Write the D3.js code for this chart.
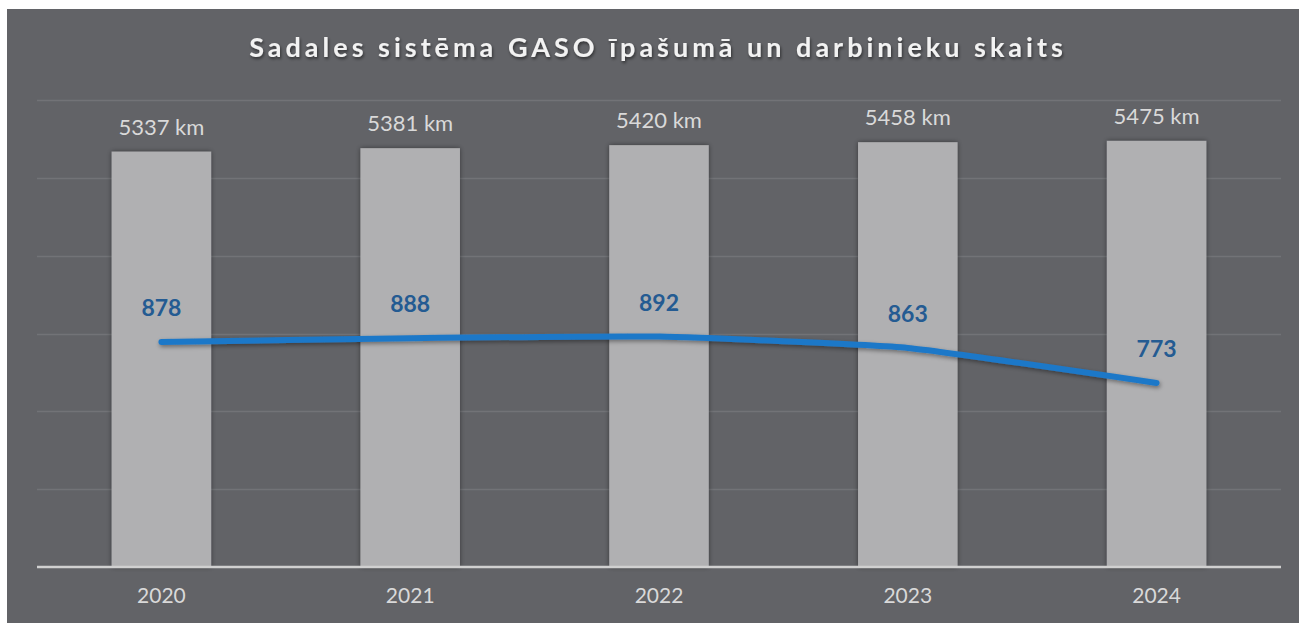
<!DOCTYPE html>
<html>
<head>
<meta charset="utf-8">
<script src="https://cdn.jsdelivr.net/npm/d3@7"></script>
<style>
  body { margin: 0; background: #ffffff; }
  svg { display: block; }
</style>
</head>
<body>
<div id="container"></div>
<script>
// Data
var years = ["2020", "2021", "2022", "2023", "2024"];
var networkKm = [5337, 5381, 5420, 5458, 5475];
var employees = [878, 888, 892, 863, 773];
var title = "Sadales sistēma GASO īpašumā un darbinieku skaits";

// Dimensions
var width = 1299;
var height = 623;
var margin = {left: 37, top: 100, bottom: 56, right: 18};
var plotBottom = height - margin.bottom;

var svg = d3.select("#container")
            .append("svg")
            .attr("width", width)
            .attr("height", height);

// Shadows for bars, line and title
var defs = svg.append("defs");
var barShadow = defs.append("filter").attr("id", "barShadow")
                    .attr("x", "-20%").attr("y", "-5%").attr("width", "140%").attr("height", "110%");
barShadow.append("feDropShadow").attr("dx", 0).attr("dy", 0).attr("stdDeviation", 2.5)
         .attr("flood-color", "#000").attr("flood-opacity", 0.45);
var lineShadow = defs.append("filter").attr("id", "lineShadow")
                     .attr("x", "-5%").attr("y", "-50%").attr("width", "110%").attr("height", "200%");
lineShadow.append("feDropShadow").attr("dx", 1).attr("dy", 2).attr("stdDeviation", 2)
          .attr("flood-color", "#000").attr("flood-opacity", 0.4);
var titleShadow = defs.append("filter").attr("id", "titleShadow");
titleShadow.append("feDropShadow").attr("dx", 1).attr("dy", 2).attr("stdDeviation", 1.5)
           .attr("flood-color", "#000").attr("flood-opacity", 0.5);

// Background panel
svg.append("rect")
   .attr("x", 7).attr("y", 9)
   .attr("width", width - 7).attr("height", height - 9)
   .attr("fill", "#626367");

// Scales
var xScale = d3.scaleBand()
               .domain(years)
               .range([margin.left, width - margin.right])
               .paddingInner(0.6)
               .paddingOuter(0.3);

var yBar = d3.scaleLinear()
             .domain([0, 6000])
             .range([plotBottom, margin.top]);

var yLine = d3.scaleLinear()
              .domain([300, 1500])
              .range([plotBottom, margin.top]);

// Gridlines
svg.append("g")
   .selectAll("line")
   .data(yBar.ticks(6).filter((d) => d > 0))
   .enter()
   .append("line")
   .attr("x1", margin.left)
   .attr("x2", width - margin.right)
   .attr("y1", (d) => Math.round(yBar(d)) + 0.5)
   .attr("y2", (d) => Math.round(yBar(d)) + 0.5)
   .attr("stroke", "#727377")
   .attr("stroke-width", 1.5);

// Bars
svg.append("g")
   .selectAll("rect")
   .data(networkKm)
   .enter()
   .append("rect")
   .attr("x", (d, i) => xScale(years[i]))
   .attr("y", (d) => yBar(d))
   .attr("width", xScale.bandwidth())
   .attr("height", (d) => yBar(0) - yBar(d))
   .attr("fill", "#b0b0b2")
   .attr("filter", "url(#barShadow)");

// Bar labels
svg.append("g")
   .selectAll("text")
   .data(networkKm)
   .enter()
   .append("text")
   .attr("x", (d, i) => xScale(years[i]) + xScale.bandwidth() / 2)
   .attr("y", (d) => yBar(d) - 17)
   .attr("text-anchor", "middle")
   .attr("font-family", "Lato, 'Open Sans', sans-serif")
   .attr("font-size", 22)
   .attr("fill", "#d9d9d9")
   .text((d) => d + " km");

// Baseline / x axis
var xAxis = d3.axisBottom(xScale).tickSize(0).tickPadding(21);
var axisG = svg.append("g")
   .attr("transform", "translate(0," + plotBottom + ")")
   .call(xAxis);
axisG.select(".domain")
     .attr("d", "M" + margin.left + ",0H" + (width - margin.right))
     .attr("stroke", "#d0d0d0")
     .attr("stroke-width", 2.5);
axisG.selectAll("text")
     .attr("font-family", "Lato, 'Open Sans', sans-serif")
     .attr("font-size", 21)
     .attr("fill", "#d9d9d9");

// Employee line (Excel-like smoothing)
var line = d3.line()
             .x((d, i) => xScale(years[i]) + xScale.bandwidth() / 2)
             .y((d) => yLine(d))
             .curve(d3.curveCardinal.tension(0.6));

svg.append("path")
   .datum(employees)
   .attr("d", line)
   .attr("fill", "none")
   .attr("stroke", "#1e78c8")
   .attr("stroke-width", 6)
   .attr("stroke-linecap", "round")
   .attr("stroke-linejoin", "round")
   .attr("filter", "url(#lineShadow)");

// Line labels
svg.append("g")
   .selectAll("text")
   .data(employees)
   .enter()
   .append("text")
   .attr("x", (d, i) => xScale(years[i]) + xScale.bandwidth() / 2)
   .attr("y", (d) => yLine(d) - 26)
   .attr("text-anchor", "middle")
   .attr("font-family", "Lato, 'Open Sans', sans-serif")
   .attr("font-weight", "bold")
   .attr("font-size", 23)
   .attr("fill", "#245b92")
   .text((d) => d);

// Title
svg.append("text")
   .attr("x", 658)
   .attr("y", 57)
   .attr("text-anchor", "middle")
   .attr("font-family", "Lato, 'Open Sans', sans-serif")
   .attr("font-weight", "bold")
   .attr("font-size", 27)
   .attr("letter-spacing", 4)
   .attr("fill", "#f2f2f2")
   .attr("filter", "url(#titleShadow)")
   .text(title);
</script>
</body>
</html>
